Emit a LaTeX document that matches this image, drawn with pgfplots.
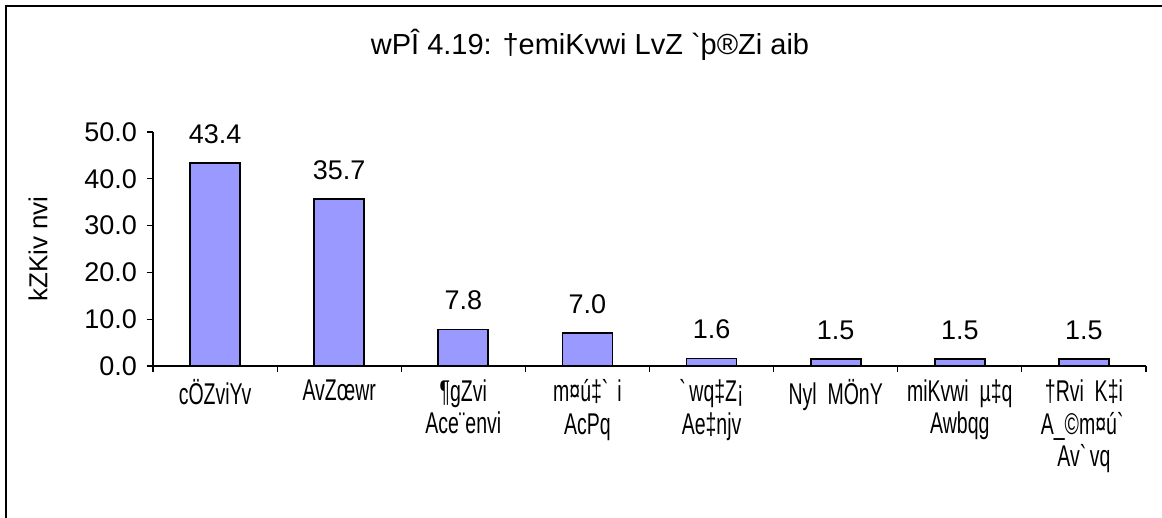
\documentclass[border=0pt]{standalone}
\usepackage{fontspec}
\setmainfont{Liberation Sans}
\newfontfamily\nf{Liberation Sans}[FakeStretch=0.65]
\usepackage{pgfplots}
\pgfplotsset{compat=1.18}
\definecolor{barblue}{HTML}{9999FF}
\begin{document}
\begin{tikzpicture}
\useasboundingbox (0,0) rectangle (581pt,259pt);
\draw[line width=0.9pt] (3pt,0) -- (3pt,256pt) -- (581pt,256pt);
\node[font=\fontsize{14.5}{16}\selectfont] at (295pt,236.5pt) {wPÎ 4.19: †emiKvwi LvZ \textasciigrave þ®Zi aib};
\begin{axis}[
  at={(76.5pt,76pt)}, anchor=south west,
  scale only axis, width=496.5pt, height=117pt,
  ymin=0, ymax=50, xmin=-0.5, xmax=7.5,
  axis x line*=bottom, axis y line*=left,
  axis line style={line width=0.6pt},
  /pgf/number format/assume math mode=true,
  ytick={0,10,...,50},
  yticklabel style={/pgf/number format/fixed, /pgf/number format/fixed zerofill, /pgf/number format/precision=1, font=\fontsize{13.5}{15}\selectfont, xshift=-1.5pt},
  tick align=outside,
  major tick length=3pt,
  tick style={black, line width=0.6pt},
  xtick={-0.5,0.5,...,7.5},
  x tick label as interval,
  xticklabels={{cÖZviYv},{AvZœwr},{¶gZvi\\Ace¨envi},{m¤ú‡\textasciigrave\ i\\AcPq},{\textasciigrave wq‡Z¡\\Ae‡njv},{Nyl\ \ MÖnY},{miKvwi\ \ µ‡q\\Awbqg},{†Rvi\ \ K‡i\\A\_©m¤ú\textasciigrave\\Av\textasciigrave vq}},
  xticklabel style={align=center, font=\fontsize{15}{16.3}\selectfont\nf, yshift=-0.3pt},
  ylabel={kZKiv nvi},
  ylabel style={at={(axis description cs:-0.1158,0.5)}, anchor=center, font=\fontsize{13}{15}\selectfont},
  clip=false,
]
\addplot[ybar, bar width=25pt, fill=barblue, draw=black, line width=0.9pt,
  nodes near coords={\pgfmathprintnumber[fixed,fixed zerofill,precision=1,assume math mode=true]{\pgfplotspointmeta}},
  every node near coord/.append style={font=\fontsize{13.5}{15}\selectfont, yshift=6pt, black}]
  coordinates {(0,43.4) (1,35.7) (2,7.8) (3,7.0) (4,1.6) (5,1.5) (6,1.5) (7,1.5)};
\end{axis}
\end{tikzpicture}
\end{document}
